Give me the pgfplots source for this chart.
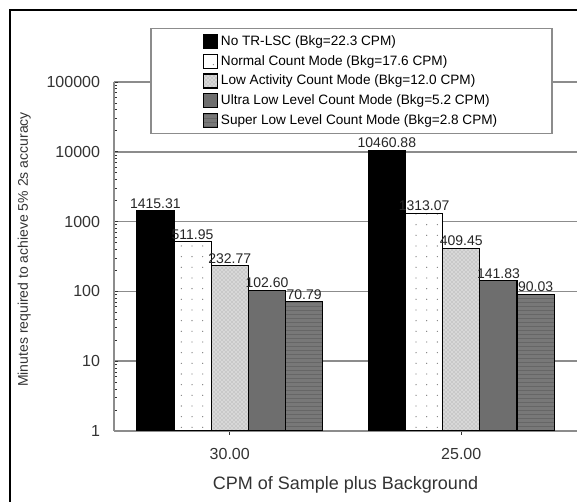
\documentclass[border=0pt]{standalone}
\usepackage{pgfplots}
\pgfplotsset{compat=1.18}
\usepackage{fontspec}
\setmainfont{Liberation Sans}
\usetikzlibrary{patterns,patterns.meta}
\definecolor{gridgray}{HTML}{8C8C8C}
\definecolor{darkbar}{HTML}{6E6E6E}
\definecolor{lightbar}{HTML}{D8D8D8}
\definecolor{stripebar}{HTML}{787878}
\begin{document}
\begin{tikzpicture}
\path[use as bounding box] (0,0) rectangle (432.75pt,376.5pt);
\draw[line width=1.1pt] (7.5pt,-2pt) -- (7.5pt,369pt) -- (440pt,369pt);
\begin{axis}[
  at={(85.5pt,53.25pt)}, anchor=south west,
  scale only axis, width=347.25pt, height=261.75pt,
  ymode=log, ymin=1, ymax=100000,
  xmin=-0.5, xmax=1.5,
  xtick={0,1}, xticklabels={30.00,25.00},
  ytick={1,10,100,1000,10000,100000},
  yticklabels={1,10,100,1000,10000,100000},
  axis x line=bottom, axis y line=left,
  axis line style={gridgray, line width=1.1pt, -},
  ymajorgrids, grid style={gridgray, line width=1.1pt},
  tick align=inside,
  major tick length=3pt, minor tick length=2pt,
  tick style={black!80, line width=0.6pt},
  ybar=0pt, bar width=27.9pt,
  every tick label/.append style={font=\fontsize{12}{14}\selectfont, text=black!80},
  yticklabel style={xshift=-7pt},
  xticklabel style={yshift=-6.5pt},
  xlabel={CPM of Sample plus Background},
  ylabel={Minutes required to achieve 5\% 2s accuracy},
  every axis x label/.style={at={(axis description cs:0.5,-0.153)}, anchor=center, font=\fontsize{13.5}{16}\selectfont, text=black!80},
  every axis y label/.style={at={(axis description cs:-0.194,0.52)}, rotate=90, anchor=center, font=\fontsize{10.5}{12}\selectfont, text=black!80},
  nodes near coords, point meta=explicit symbolic,
  every node near coord/.append style={font=\fontsize{10.5}{12}\selectfont, text=black!85, inner sep=1.5pt},
  legend image code/.code={\draw[#1] (0pt,-5.25pt) rectangle (10.5pt,5.25pt);},
  legend cell align=left,
  legend style={at={(0.513,1.155)}, anchor=north, draw=gridgray, line width=1.1pt, fill=white,
    inner xsep=39pt, inner ysep=3.5pt, row sep=1.8pt,
    font=\fontsize{10.2}{12}\selectfont},
]
\addplot[fill=black, draw=black, line width=0.9pt] coordinates {(0,1415.31) [1415.31] (1,10460.88) [10460.88]};
\addlegendentry{No TR-LSC (Bkg=22.3 CPM)}
\addplot[fill=white, draw=black, line width=0.9pt, postaction={pattern={Dots[distance=8pt, radius=0.5pt]}, pattern color=gray}] coordinates {(0,511.95) [511.95] (1,1313.07) [1313.07]};
\addlegendentry{Normal Count Mode (Bkg=17.6 CPM)}
\addplot[fill=lightbar, draw=black, line width=0.9pt, postaction={pattern=crosshatch dots, pattern color=black!40}] coordinates {(0,232.77) [232.77] (1,409.45) [409.45]};
\addlegendentry{Low Activity Count Mode (Bkg=12.0 CPM)}
\addplot[fill=darkbar, draw=black, line width=0.9pt] coordinates {(0,102.60) [102.60] (1,141.83) [141.83]};
\addlegendentry{Ultra Low Level Count Mode (Bkg=5.2 CPM)}
\addplot[fill=stripebar, draw=black, line width=0.9pt, postaction={pattern={Lines[angle=0, distance=3pt, line width=0.6pt]}, pattern color=black!60}] coordinates {(0,70.79) [70.79] (1,90.03) [90.03]};
\addlegendentry{Super Low Level Count Mode (Bkg=2.8 CPM)}
\end{axis}
\end{tikzpicture}
\end{document}
